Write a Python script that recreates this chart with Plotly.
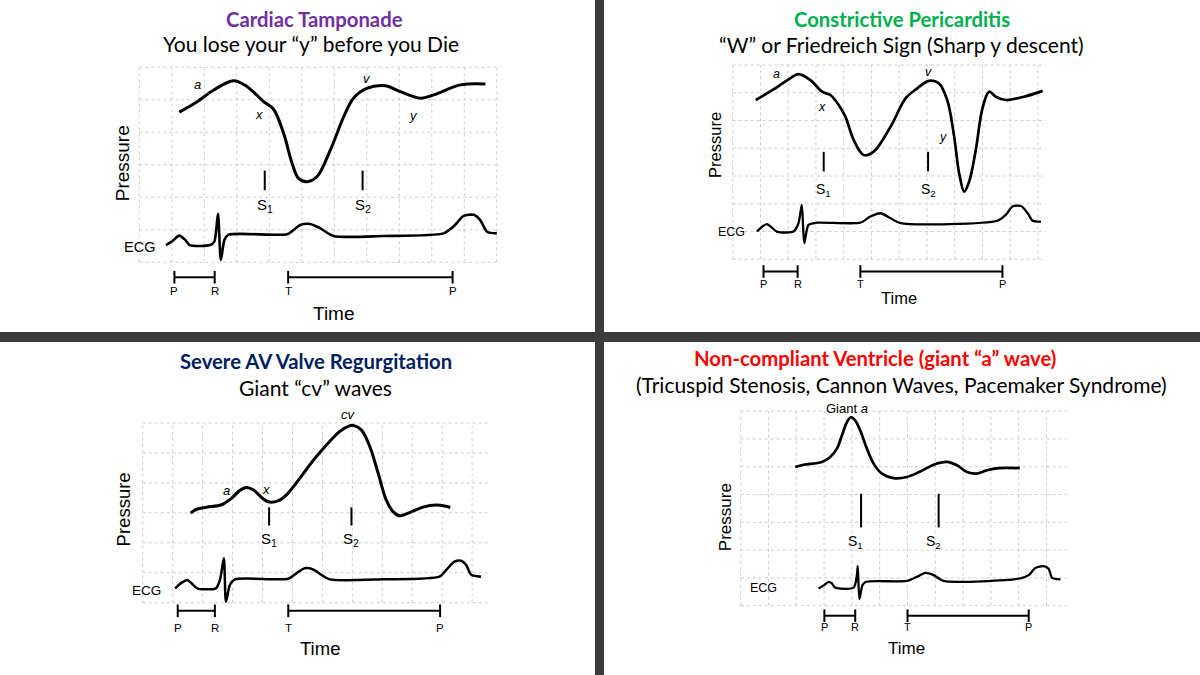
import plotly.graph_objects as go

W, H = 1200, 675

# ---------------- DATA ----------------
interval_labels = ["P", "R", "T", "P"]
s_labels = ["S<sub>1</sub>", "S<sub>2</sub>"]

# Panel 1: Cardiac Tamponade
tamp_time = [1.23, 1.78, 2.29, 2.90, 3.31, 3.83, 4.13, 4.44, 4.70, 4.90, 5.16, 5.47, 5.88, 6.29,
             6.59, 7.0, 7.56, 8.03, 8.65, 9.06, 9.88, 10.65]
tamp_pressure = [4.62, 4.94, 5.30, 5.59, 5.41, 4.94, 4.71, 3.97, 3.05, 2.58, 2.48, 2.64, 3.46, 4.48,
                 5.05, 5.35, 5.43, 5.25, 5.05, 5.15, 5.46, 5.49]
tamp_ecg_time = [0.82, 1.0, 1.23, 1.41, 1.55, 2.18, 2.31, 2.42, 2.51, 2.62, 2.75, 4.54, 4.74, 4.95,
                 5.26, 5.56, 5.98, 7.52, 9.36, 9.67, 9.98, 10.29, 10.49, 10.70, 11.0]
tamp_ecg = [0.53, 0.64, 0.82, 0.69, 0.53, 0.53, 0.64, 1.49, 0.07, 0.69, 0.85, 0.86, 0.99, 1.15,
            1.18, 1.05, 0.81, 0.81, 0.89, 1.10, 1.43, 1.46, 1.30, 0.94, 0.89]
tamp_wave_labels = ["a", "x", "v", "y"]
tamp_wave_x = [1.79, 3.67, 7.0, 8.44]
tamp_wave_y = [5.46, 4.55, 5.66, 4.53]
tamp_s_x = [3.86, 6.87]
tamp_interval_x = [1.08, 2.32, 4.58, 9.64]

# Panel 2: Constrictive Pericarditis
cp_time = [0.83, 1.47, 2.07, 2.37, 2.80, 3.22, 3.52, 3.82, 4.06, 4.36, 4.72, 5.08, 5.69, 6.23, 6.65,
           7.07, 7.43, 7.73, 7.98, 8.16, 8.34, 8.52, 8.76, 9.0, 9.24, 9.48, 9.84, 10.5, 11.17]
cp_pressure = [5.74, 6.12, 6.52, 6.67, 6.46, 6.04, 5.92, 5.56, 5.14, 4.30, 3.76, 3.88, 4.78, 5.80, 6.16,
               6.43, 6.34, 5.74, 4.42, 3.10, 2.44, 2.80, 3.94, 5.44, 6.04, 5.86, 5.74, 5.86, 6.07]
cp_ecg_time = [0.87, 1.23, 1.59, 2.19, 2.37, 2.49, 2.58, 2.73, 3.04, 4.6, 4.96, 5.33, 5.69, 6.05,
               9.54, 9.84, 10.08, 10.39, 10.63, 10.81, 11.11]
cp_ecg = [1.0, 1.27, 1.0, 1.0, 1.30, 1.96, 0.58, 1.24, 1.32, 1.32, 1.54, 1.66, 1.48, 1.30,
          1.39, 1.60, 1.90, 1.92, 1.66, 1.39, 1.36]
cp_wave_labels = ["a", "x", "v", "y"]
cp_wave_x = [1.57, 3.22, 7.04, 7.59]
cp_wave_y = [6.67, 5.50, 6.76, 4.39]
cp_s_x = [3.28, 7.04]
cp_interval_x = [1.11, 2.34, 4.60, 9.72]

# Panel 3: Severe AV Valve Regurgitation
avr_time = [1.6, 1.8, 2.13, 2.63, 2.97, 3.24, 3.47, 3.69, 4.02, 4.19, 4.52, 4.8, 5.8, 6.58, 6.86,
            7.04, 7.3, 7.58, 7.86, 8.13, 8.36, 8.58, 8.91, 9.36, 9.8, 10.08, 10.27]
avr_pressure = [2.99, 3.12, 3.19, 3.27, 3.49, 3.75, 3.85, 3.77, 3.47, 3.37, 3.40, 3.60, 4.88, 5.72, 5.89,
                5.92, 5.77, 5.22, 4.33, 3.43, 3.04, 2.90, 3.01, 3.19, 3.26, 3.23, 3.18]
avr_ecg_time = [1.08, 1.3, 1.49, 1.63, 1.82, 2.44, 2.58, 2.71, 2.78, 2.91, 3.08, 4.86, 5.13, 5.41,
                5.69, 5.97, 6.24, 8.02, 9.91, 10.13, 10.41, 10.63, 10.8, 10.97, 11.3]
avr_ecg = [0.48, 0.67, 0.76, 0.65, 0.48, 0.48, 0.76, 1.48, 0.03, 0.59, 0.78, 0.80, 0.98, 1.15,
           1.11, 0.93, 0.78, 0.78, 0.87, 1.09, 1.37, 1.40, 1.26, 0.93, 0.87]
avr_wave_labels = ["a", "x", "cv"]
avr_wave_x = [2.81, 4.11, 6.86]
avr_wave_y = [3.75, 3.79, 6.28]
avr_s_x = [4.22, 6.97]
avr_interval_x = [1.17, 2.41, 4.86, 9.93]

# Panel 4: Non-compliant Ventricle (giant a wave)
nc_time = [1.96, 2.26, 2.92, 3.22, 3.46, 3.64, 3.82, 3.96, 4.12, 4.30, 4.54, 4.78, 5.08, 5.50,
           5.98, 6.46, 6.94, 7.42, 7.78, 8.14, 8.50, 8.86, 9.28, 10.04]
nc_pressure = [4.99, 5.07, 5.17, 5.35, 5.65, 6.12, 6.60, 6.78, 6.66, 6.30, 5.65, 5.11, 4.75, 4.59,
               4.63, 4.83, 5.07, 5.17, 5.05, 4.81, 4.75, 4.87, 4.95, 4.95]
nc_ecg_time = [2.80, 3.0, 3.16, 3.28, 3.40, 4.06, 4.18, 4.21, 4.27, 4.38, 4.51, 5.98, 6.34, 6.64,
               6.94, 7.30, 10.06, 10.36, 10.60, 10.90, 11.08, 11.20, 11.50]
nc_ecg = [0.62, 0.74, 0.86, 0.80, 0.65, 0.65, 1.10, 1.42, 0.24, 0.74, 0.86, 0.89, 1.04, 1.18,
          1.10, 0.89, 0.98, 1.10, 1.36, 1.42, 1.32, 1.00, 0.95]
nc_wave_labels = ["Giant <i>a</i>"]
nc_wave_x = [3.82]
nc_wave_y = [7.08]
nc_s_x = [4.33, 7.12]
nc_interval_x = [3.01, 4.12, 6.0, 10.36]

titles = ["Cardiac Tamponade", "Constrictive Pericarditis",
          "Severe AV Valve Regurgitation", "Non-compliant Ventricle (giant \u201ca\u201d wave)"]
subtitles = ["You lose your \u201cy\u201d before you Die",
             "\u201cW\u201d or Friedreich Sign (Sharp y descent)",
             "Giant \u201ccv\u201d waves",
             "(Tricuspid Stenosis, Cannon Waves, Pacemaker Syndrome)"]
title_colors = ["#7030A0", "#00B050", "#002060", "#FF0000"]

# ---------------- LAYOUT / STYLE PER PANEL ----------------
panels = [
    dict(t=tamp_time, p=tamp_pressure, et=tamp_ecg_time, e=tamp_ecg,
         wl=tamp_wave_labels, wx=tamp_wave_x, wy=tamp_wave_y, sx=tamp_s_x, ix=tamp_interval_x,
         box=(60, 590, 55, 330), origin=(139.3, 262.3), cell=32.5, rows=6, gx=11.1,
         s_y=2.52, s_len=14, s_lab_y=1.74, s_lab_dx=[0, 0], br_y=-0.46, br_lab_y=-0.88,
         ecg_lab=(0.54, 0.48), press=(-0.53, 3.05), time=(5.98, -1.57),
         fs_big=19, fs_ecg=14.5, fs_s=15, fs_w=13, fs_i=11.5, lw=3, elw=2.6,
         title_xy=(314, 19), sub_xy=(311, 43)),
    dict(t=cp_time, p=cp_pressure, et=cp_ecg_time, e=cp_ecg,
         wl=cp_wave_labels, wx=cp_wave_x, wy=cp_wave_y, sx=cp_s_x, ix=cp_interval_x,
         box=(610, 1195, 55, 330), origin=(732.7, 259.3), cell=27.75, rows=7, gx=11.27,
         s_y=3.52, s_len=14, s_lab_y=2.5, s_lab_dx=[0, 0], br_y=-0.44, br_lab_y=-0.90,
         ecg_lab=(0.53, 1.0), press=(-0.64, 4.12), time=(5.99, -1.40),
         fs_big=16.5, fs_ecg=12.5, fs_s=14, fs_w=12.5, fs_i=11, lw=2.7, elw=2.3,
         title_xy=(902, 19), sub_xy=(901, 44)),
    dict(t=avr_time, p=avr_pressure, et=avr_ecg_time, e=avr_ecg,
         wl=avr_wave_labels, wx=avr_wave_x, wy=avr_wave_y, sx=avr_s_x, ix=avr_interval_x,
         box=(60, 590, 400, 670), origin=(142.7, 602.7), cell=29.95, rows=6, gx=11.52,
         s_y=2.88, s_len=13, s_lab_y=2.12, s_lab_dx=[0, 0], br_y=-0.27, br_lab_y=-0.84,
         ecg_lab=(0.67, 0.40), press=(-0.64, 3.10), time=(5.91, -1.53),
         fs_big=18.5, fs_ecg=13.5, fs_s=15, fs_w=13, fs_i=11.5, lw=3, elw=2.5,
         title_xy=(316, 361), sub_xy=(316, 387)),
    dict(t=nc_time, p=nc_pressure, et=nc_ecg_time, e=nc_ecg,
         wl=nc_wave_labels, wx=nc_wave_x, wy=nc_wave_y, sx=nc_s_x, ix=nc_interval_x,
         box=(610, 1195, 400, 670), origin=(740.7, 605.7), cell=27.8, rows=7, gx=11.73,
         s_y=3.42, s_len=24, s_lab_y=2.3, s_lab_dx=[-0.19, -0.18], br_y=-0.36, br_lab_y=-0.75,
         ecg_lab=(1.39, 0.65), press=(-0.56, 3.19), time=(5.98, -1.53),
         fs_big=17, fs_ecg=12.5, fs_s=14, fs_w=13, fs_i=11, lw=2.7, elw=2.3,
         title_xy=(875, 358), sub_xy=(901, 384)),
]

LABEL_FONT = "Liberation Sans, Arial, sans-serif"
TITLE_FONT = "Lato, Open Sans, sans-serif"

fig = go.Figure()
layout_axes = {}
shapes = []
annotations = []

for i, P in enumerate(panels, start=1):
    sfx = "" if i == 1 else str(i)
    xr, yr = "x" + sfx, "y" + sfx
    L, R, T, B = P["box"]
    ox, oy = P["origin"]
    c = P["cell"]
    layout_axes["xaxis" + sfx] = dict(domain=[L / W, R / W], range=[(L - ox) / c, (R - ox) / c],
                                      anchor=yr, visible=False, fixedrange=True)
    layout_axes["yaxis" + sfx] = dict(domain=[1 - B / H, 1 - T / H], range=[(oy - B) / c, (oy - T) / c],
                                      anchor=xr, visible=False, fixedrange=True)

    # dotted grid (background of the diagram)
    gstyle = dict(color="#cdcdcd", width=1, dash="dot")
    for k in range(12):
        shapes.append(dict(type="line", xref=xr, yref=yr, x0=k, x1=k, y0=0, y1=P["rows"],
                           line=gstyle, layer="below"))
    for j in range(P["rows"] + 1):
        shapes.append(dict(type="line", xref=xr, yref=yr, x0=0, x1=P["gx"], y0=j, y1=j,
                           line=gstyle, layer="below"))

    # pressure waveform
    fig.add_trace(go.Scatter(x=P["t"], y=P["p"], mode="lines", xaxis=xr, yaxis=yr,
                             line=dict(color="black", width=P["lw"], shape="spline", smoothing=1.0),
                             hoverinfo="skip", showlegend=False))
    # ECG
    fig.add_trace(go.Scatter(x=P["et"], y=P["e"], mode="lines", xaxis=xr, yaxis=yr,
                             line=dict(color="black", width=P["elw"], shape="spline", smoothing=0.7),
                             hoverinfo="skip", showlegend=False))
    # S1 / S2 ticks
    fig.add_trace(go.Scatter(x=P["sx"], y=[P["s_y"]] * len(P["sx"]), mode="markers", xaxis=xr, yaxis=yr,
                             marker=dict(symbol="line-ns", size=P["s_len"], color="black",
                                         line=dict(width=2, color="black")),
                             hoverinfo="skip", showlegend=False))
    # interval brackets P-R and T-P
    ix = P["ix"]
    fig.add_trace(go.Scatter(x=[ix[0], ix[1], None, ix[2], ix[3]],
                             y=[P["br_y"], P["br_y"], None, P["br_y"], P["br_y"]],
                             mode="lines+markers", xaxis=xr, yaxis=yr,
                             line=dict(color="black", width=2),
                             marker=dict(symbol="line-ns", size=9, color="black",
                                         line=dict(width=2, color="black")),
                             hoverinfo="skip", showlegend=False))

    # text labels
    for lab, x, y in zip(P["wl"], P["wx"], P["wy"]):
        txt = lab if "<i>" in lab else "<i>" + lab + "</i>"
        annotations.append(dict(text=txt, x=x, y=y, xref=xr, yref=yr, showarrow=False,
                                font=dict(family=LABEL_FONT, size=P["fs_w"], color="black")))
    for lab, x, dx in zip(s_labels, P["sx"], P["s_lab_dx"]):
        annotations.append(dict(text=lab, x=x + dx, y=P["s_lab_y"], xref=xr, yref=yr, showarrow=False,
                                font=dict(family=LABEL_FONT, size=P["fs_s"], color="black")))
    for lab, x in zip(interval_labels, ix):
        annotations.append(dict(text=lab, x=x, y=P["br_lab_y"], xref=xr, yref=yr, showarrow=False,
                                font=dict(family=LABEL_FONT, size=P["fs_i"], color="black")))
    annotations.append(dict(text="ECG", x=P["ecg_lab"][0], y=P["ecg_lab"][1], xref=xr, yref=yr,
                            xanchor="right", showarrow=False,
                            font=dict(family=LABEL_FONT, size=P["fs_ecg"], color="black")))
    annotations.append(dict(text="Pressure", x=P["press"][0], y=P["press"][1], xref=xr, yref=yr,
                            textangle=-90, showarrow=False,
                            font=dict(family=LABEL_FONT, size=P["fs_big"], color="black")))
    annotations.append(dict(text="Time", x=P["time"][0], y=P["time"][1], xref=xr, yref=yr,
                            showarrow=False,
                            font=dict(family=LABEL_FONT, size=P["fs_big"], color="black")))

    # panel titles
    tx, ty = P["title_xy"]
    annotations.append(dict(text="<b>" + titles[i - 1] + "</b>", x=tx / W, y=1 - ty / H,
                            xref="paper", yref="paper", showarrow=False,
                            xanchor="center", yanchor="middle",
                            font=dict(family=TITLE_FONT, size=20.3, color=title_colors[i - 1])))
    sx_, sy_ = P["sub_xy"]
    annotations.append(dict(text=subtitles[i - 1], x=sx_ / W, y=1 - sy_ / H,
                            xref="paper", yref="paper", showarrow=False,
                            xanchor="center", yanchor="middle",
                            font=dict(family=TITLE_FONT, size=21, color="black")))

# dark dividers between the four panels
shapes.append(dict(type="rect", xref="paper", yref="paper", x0=595 / W, x1=604 / W, y0=0, y1=1,
                   fillcolor="#3b3b3b", line=dict(width=0), layer="above"))
shapes.append(dict(type="rect", xref="paper", yref="paper", x0=0, x1=1, y0=1 - 342 / H, y1=1 - 332 / H,
                   fillcolor="#3b3b3b", line=dict(width=0), layer="above"))

fig.update_layout(width=W, height=H, margin=dict(l=0, r=0, t=0, b=0),
                  paper_bgcolor="white", plot_bgcolor="rgba(0,0,0,0)",
                  showlegend=False, shapes=shapes, annotations=annotations, **layout_axes)

fig.write_html("out.html", config={"displayModeBar": False, "responsive": False},
               post_script="document.body.style.margin='0px';document.body.style.overflow='hidden';")
